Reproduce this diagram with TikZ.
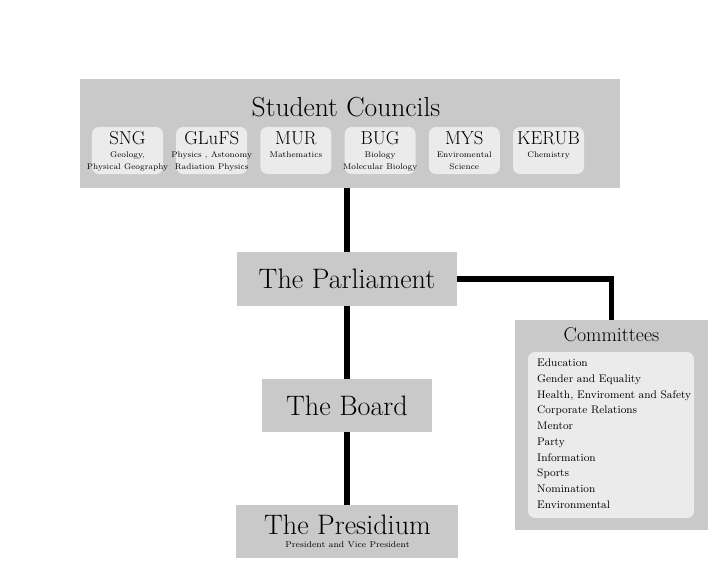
\documentclass[tikz,border=0pt]{standalone}
\usepackage{tikz}
\usetikzlibrary{calc}

\definecolor{boxgray}{HTML}{C9C9C9}
\definecolor{innergray}{HTML}{EBEBEB}

\begin{document}
\begin{tikzpicture}[x=0.03cm, y=-0.03cm,
  box/.style = {shape=rectangle, fill=boxgray, inner sep=0pt},
  council/.style = {shape=rectangle, rounded corners=6pt, fill=innergray, minimum width=2.13cm, minimum height=1.41cm, inner sep=0pt},
  link/.style = {line width=5pt},
  bigtitle/.style = {font=\fontsize{24}{28}\selectfont},
  councilhead/.style = {font=\fontsize{16}{18}\selectfont, inner sep=0pt},
  councilsub/.style = {font=\fontsize{7}{10}\selectfont, align=center, inner sep=0pt}]

  \useasboundingbox (0,0) rectangle (727,578);

  % student councils
  \node[box, minimum width=16.2cm, minimum height=3.27cm] (sc) at (350,133.5) {};
  \node[font=\fontsize{23.5}{26}\selectfont] (sctitle) at (346,107) {Student Councils};

  \foreach \short/\long [count=\i] in {SNG/{Geology,\\Physical Geography},
      GLuFS/{Physics , Astonomy\\Radiation Physics},
      MUR/{Mathematics},
      BUG/{Biology\\Molecular Biology},
      MYS/{Enviromental\\Science},
      KERUB/{Chemistry}} {
    \node[council] (c\i) at ({127.5+84.2*(\i-1)},150.5) {};
    \node[councilhead, anchor=base] (h\i) at ($(c\i.north)+(0,18)$) {\short};
    \node[councilsub, anchor=north] (s\i) at ($(c\i.north)+(0,25)$) {\long};
  }

  % main chain
  \node[box, bigtitle, minimum width=6.6cm, minimum height=1.62cm] (parl) at (347,279) {The Parliament};
  \node[box, bigtitle, minimum width=5.1cm, minimum height=1.59cm] (board) at (347,405.5) {The Board};
  \node[box, minimum width=6.63cm, minimum height=1.59cm] (pres) at (347,531.5) {};
  \node[bigtitle, anchor=base] (prestitle) at (347.5,534) {The Presidium};
  \node[font=\fontsize{7.3}{8}\selectfont, anchor=base] (pressub) at (347.5,547) {President and Vice President};

  % committees
  \node[box, minimum width=5.79cm, minimum height=6.3cm] (comm) at (611.5,425) {};
  \node[font=\fontsize{17}{19}\selectfont] (commtitle) at (611.5,335) {Committees};
  \node[council, minimum width=4.98cm, minimum height=4.98cm] (list) at (611,435) {};
  \node[anchor=north west, align=left, inner sep=0pt, font=\fontsize{9.4}{13.4}\selectfont] (items) at (537,359)
    {Education\\Gender and Equality\\Health, Enviroment and Safety\\Corporate Relations\\Mentor\\Party\\Information\\Sports\\Nomination\\Environmental};

  \draw[link] (parl.north |- sc.south) -- (parl.north);
  \draw[link] (parl) -- (board);
  \draw[link] (board) -- (pres);
  \draw[link] (parl.east) -| (comm.north);
\end{tikzpicture}
\end{document}
